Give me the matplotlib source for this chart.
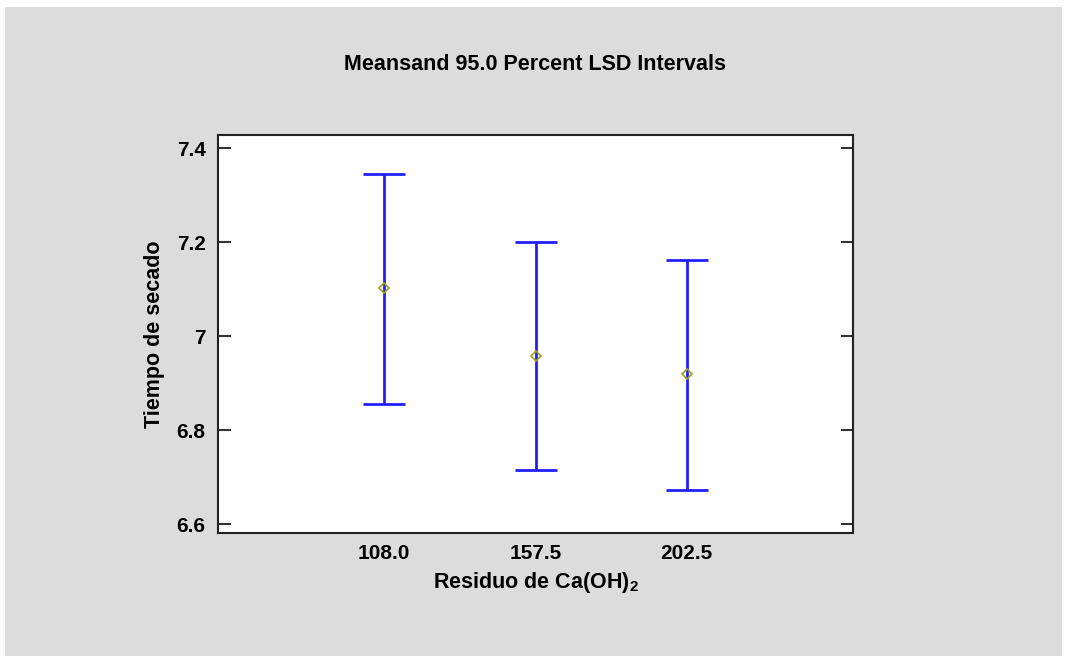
import numpy as np
import matplotlib.pyplot as plt
from matplotlib.patches import Rectangle

plt.rcParams['font.family'] = ['Liberation Sans', 'DejaVu Sans']
plt.rcParams['mathtext.fontset'] = 'custom'
plt.rcParams['mathtext.bf'] = 'Liberation Sans:bold'
plt.rcParams['mathtext.rm'] = 'Liberation Sans:bold'

groups = ['108.0', '157.5', '202.5']
means = [7.102, 6.957, 6.919]
lower = [6.855, 6.715, 6.672]
upper = [7.345, 7.201, 7.162]
yticks = [6.6, 6.8, 7.0, 7.2, 7.4]
ytick_labels = ['6.6', '6.8', '7', '7.2', '7.4']

fig = plt.figure(figsize=(10.65, 6.57), dpi=100)
fig.patch.set_facecolor('white')
fig.patches.append(Rectangle((5 / 1065, 1 / 657), 1057 / 1065, 649 / 657,
                             transform=fig.transFigure, facecolor='#dcdcdc',
                             edgecolor='none', zorder=-10))

ax = fig.add_axes([218 / 1065, 1 - 533 / 657, 635 / 1065, 398 / 657])
ax.set_facecolor('white')

x = np.arange(len(groups))
m = np.array(means)
err = [m - np.array(lower), np.array(upper) - m]
ax.errorbar(x, m, yerr=err, fmt='none', ecolor='#2020ff', elinewidth=2,
            capsize=15, capthick=2)
ax.plot(x, m, 'D', markerfacecolor='none', markeredgecolor='#a0a020',
        markersize=5, markeredgewidth=1.2)

ax.set_xlim(-1.1, 3.1)
ax.set_ylim(6.581, 7.428)
ax.set_xticks(x)
ax.set_xticklabels(groups, fontsize=15, fontweight='bold')
ax.set_yticks(yticks)
ax.set_yticklabels(ytick_labels, fontsize=15, fontweight='bold')
ax.tick_params(axis='x', length=0, pad=8)
ax.tick_params(axis='y', direction='in', length=9, width=1.5, color='#333333',
               right=True, pad=9)
for s in ax.spines.values():
    s.set_linewidth(1.5)
    s.set_color('#222222')

ax.set_xlabel('Residuo de Ca(OH)$_2$', fontsize=15.5, fontweight='bold', labelpad=5)
ax.set_ylabel('Tiempo de secado', fontsize=15.5, fontweight='bold', labelpad=8)
fig.text(535 / 1065, 1 - 65 / 657, 'Meansand 95.0 Percent LSD Intervals',
         ha='center', va='center', fontsize=15.5, fontweight='bold')

fig.savefig('out.png', dpi=100)
